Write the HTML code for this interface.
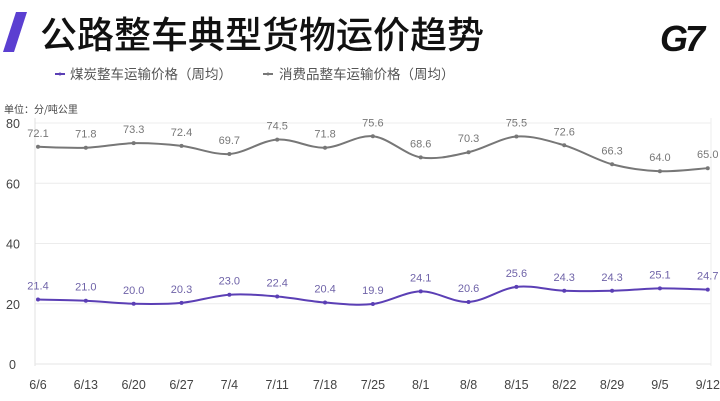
<!DOCTYPE html>
<html><head><meta charset="utf-8">
<style>
html,body{margin:0;padding:0;background:#fff;}
body{width:720px;height:401px;overflow:hidden;position:relative;font-family:"Liberation Sans","Noto Sans CJK SC",sans-serif;}
svg{position:absolute;left:0;top:0;}
</style></head><body>
<svg id="s" width="720" height="401" xmlns="http://www.w3.org/2000/svg" font-family="Liberation Sans, Noto Sans CJK SC, sans-serif">
<polygon points="16,12 27,12 14,52 3,52" fill="#5b3fd1"/>
<text x="40" y="48" font-size="37" font-weight="500" fill="#111" font-family="Noto Sans CJK SC, sans-serif">公路整车典型货物运价趋势</text>
<text x="660" y="51" font-size="36" font-weight="bold" font-style="italic" fill="#111" letter-spacing="-3">G7</text>
<line x1="55" y1="74" x2="65" y2="74" stroke="#5b3fb5" stroke-width="2"/><circle cx="60" cy="74" r="1.5" fill="#5b3fb5"/>
<text x="70" y="79" font-size="13.5" fill="#555" font-family="Noto Sans CJK SC, sans-serif">煤炭整车运输价格（周均）</text>
<line x1="263" y1="74" x2="273" y2="74" stroke="#777" stroke-width="2"/><circle cx="268" cy="74" r="1.5" fill="#777"/>
<text x="279" y="79" font-size="13.5" fill="#555" font-family="Noto Sans CJK SC, sans-serif">消费品整车运输价格（周均）</text>
<text x="4" y="113" font-size="10" fill="#444" font-family="Noto Sans CJK SC, sans-serif">单位：分/吨公里</text>
<g id="g"></g>
</svg>
<script>
var g=document.getElementById('g'),h='';
function Y(v){return 364-3.0125*v;}
function X(i){return 38+47.84*i;}
var labs=['6/6','6/13','6/20','6/27','7/4','7/11','7/18','7/25','8/1','8/8','8/15','8/22','8/29','9/5','9/12'];
var a=[72.1,71.8,73.3,72.4,69.7,74.5,71.8,75.6,68.6,70.3,75.5,72.6,66.3,64.0,65.0];
var b=[21.4,21.0,20.0,20.3,23.0,22.4,20.4,19.9,24.1,20.6,25.6,24.3,24.3,25.1,24.7];
[20,40,60,80].forEach(function(v){h+='<line x1="35" x2="711" y1="'+Y(v)+'" y2="'+Y(v)+'" stroke="#ececec" stroke-width="1"/>';});
h+='<line x1="35" x2="35" y1="118" y2="366" stroke="#e0e0e0"/><line x1="711" x2="711" y1="118" y2="366" stroke="#eee"/><line x1="35" x2="711" y1="364" y2="364" stroke="#e6e6e6"/>';
[0,20,40,60,80].forEach(function(v){h+='<text x="'+(v?6:9)+'" y="'+(Y(v)+5)+'" font-size="12.5" fill="#444">'+v+'</text>';});
labs.forEach(function(l,i){h+='<text x="'+X(i)+'" y="389" font-size="12.5" fill="#444" text-anchor="middle">'+l+'</text>';});
function path(d){var p=d.map(function(v,i){return [X(i),Y(v)];});var s='M'+p[0][0]+','+p[0][1];
for(var i=0;i<p.length-1;i++){var p0=p[i-1]||p[i],p1=p[i],p2=p[i+1],p3=p[i+2]||p2;var t=0.5/3;
s+=' C'+(p1[0]+(p2[0]-p0[0])*t)+','+(p1[1]+(p2[1]-p0[1])*t)+' '+(p2[0]-(p3[0]-p1[0])*t)+','+(p2[1]-(p3[1]-p1[1])*t)+' '+p2[0]+','+p2[1];}return s;}
function series(d,c,tc){h+='<path d="'+path(d)+'" fill="none" stroke="'+c+'" stroke-width="2"/>';
d.forEach(function(v,i){h+='<circle cx="'+X(i)+'" cy="'+Y(v)+'" r="2" fill="'+c+'"/><text x="'+X(i)+'" y="'+(Y(v)-10)+'" font-size="11" fill="'+tc+'" text-anchor="middle">'+v.toFixed(1)+'</text>';});}
series(a,'#777','#777');series(b,'#5b3fb5','#6f63a8');
g.innerHTML=h;
</script>
</body></html>
